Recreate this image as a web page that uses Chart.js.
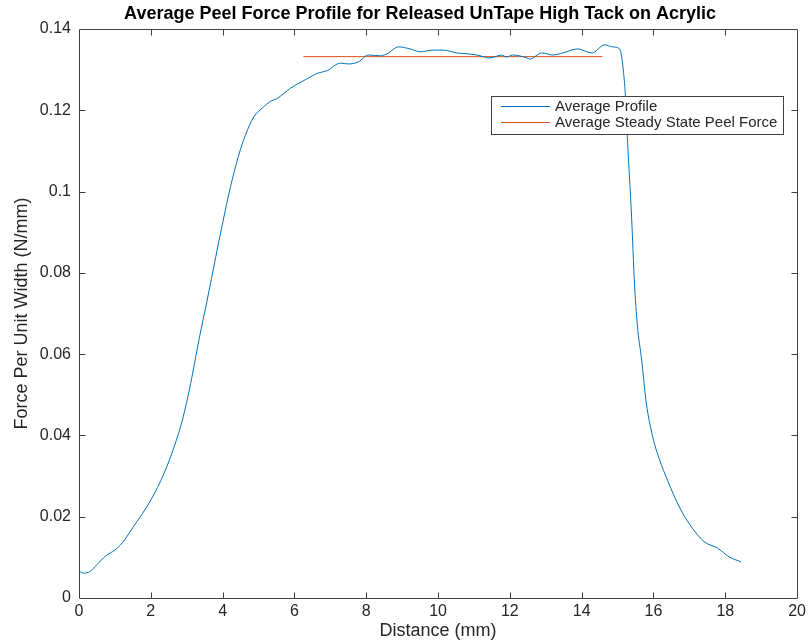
<!DOCTYPE html>
<html>
<head>
<meta charset="utf-8">
<script src="https://cdn.jsdelivr.net/npm/chart.js@4.4.0/dist/chart.umd.min.js"></script>
<style>
  html, body { margin: 0; padding: 0; background: #fff; }
</style>
</head>
<body>
<canvas id="chart" width="810" height="642"></canvas>
<script>
// ── Data ────────────────────────────────────────────────────────────────────
const TITLE = 'Average Peel Force Profile for Released UnTape High Tack on Acrylic';
const X_LABEL = 'Distance (mm)';
const Y_LABEL = 'Force Per Unit Width (N/mm)';

const X_TICKS = [0, 2, 4, 6, 8, 10, 12, 14, 16, 18, 20];
const Y_TICKS = [0, 0.02, 0.04, 0.06, 0.08, 0.1, 0.12, 0.14];

const profileDistance = [
  0, 0.14, 0.3, 0.5, 0.75, 1.0, 1.2, 1.49, 2.0, 2.37, 2.65, 2.88, 3.11, 3.34,
  3.57, 3.81, 3.99, 4.22, 4.45, 4.64, 4.87, 5.1, 5.33, 5.5, 5.9, 6.3, 6.67, 6.9,
  7.28, 7.5, 7.78, 8.06, 8.39, 8.58, 8.9, 9.22, 9.5, 9.86, 10.14, 10.53, 10.8,
  11.08, 11.44, 11.78, 11.9, 12.08, 12.47, 12.55, 12.89, 13.2, 13.47, 13.89,
  14.28, 14.64, 14.86, 15.06, 15.17, 15.22, 15.28, 15.39, 15.47, 15.55, 15.67,
  15.8, 15.98, 16.17, 16.39, 16.72, 17.08, 17.42, 17.78, 18.11, 18.44
];
const profileForce = [
  0.0066, 0.0061, 0.0065, 0.0082, 0.0104, 0.0118, 0.0135, 0.0172, 0.0241, 0.0307,
  0.0372, 0.0438, 0.0528, 0.0635, 0.0733, 0.0840, 0.0918, 0.1012, 0.1090, 0.1140,
  0.1184, 0.1205, 0.1222, 0.1228, 0.1255, 0.1275, 0.1292, 0.1297, 0.1316, 0.1314,
  0.1319, 0.1336, 0.1334, 0.1339, 0.1356, 0.1351, 0.1344, 0.1348, 0.1348, 0.1341,
  0.1339, 0.1336, 0.1329, 0.1336, 0.1331, 0.1336, 0.1329, 0.1326, 0.1341, 0.1336,
  0.1341, 0.1351, 0.1341, 0.1361, 0.1356, 0.1351, 0.1290, 0.1233, 0.1120, 0.0937,
  0.0775, 0.0672, 0.0586, 0.0480, 0.0396, 0.0340, 0.0290, 0.0224, 0.0172, 0.0138,
  0.0123, 0.0101, 0.0089
];

const steadyDistance = [6.25, 14.58];
const steadyForce = [0.1332, 0.1332];

const SERIES_LABELS = ['Average Profile', 'Average Steady State Peel Force'];
const SERIES_COLORS = ['#0072BD', '#D95319'];

// ── Style ───────────────────────────────────────────────────────────────────
const FONT = '"Liberation Sans", Arial, Helvetica, sans-serif';
const INK = '#262626';
const AXIS = '#404040';

const toPoints = (xs, ys) => xs.map((x, i) => ({ x, y: ys[i] }));

// title drawn above the axes (MATLAB centres it a bit left of the plot)
const titlePlugin = {
  id: 'matlabTitle',
  afterDraw(chart) {
    const ctx = chart.ctx;
    ctx.save();
    ctx.font = 'bold 18px ' + FONT;
    ctx.fillStyle = '#000';
    ctx.textAlign = 'center';
    ctx.textBaseline = 'middle';
    ctx.fillText(TITLE, 420, 14);
    ctx.restore();
  }
};

// box round the axes + inward ticks on all four sides
const boxPlugin = {
  id: 'matlabBox',
  afterDatasetsDraw(chart) {
    const { ctx, chartArea: a, scales } = chart;
    const L = Math.round(a.left) + 0.5, R = Math.round(a.right) + 0.5;
    const T = Math.round(a.top) + 0.5, B = Math.round(a.bottom) + 0.5;
    const len = 6;
    ctx.save();
    ctx.strokeStyle = AXIS;
    ctx.lineWidth = 1;
    ctx.beginPath();
    ctx.rect(L, T, R - L, B - T);
    X_TICKS.forEach(v => {
      const px = Math.round(scales.x.getPixelForValue(v)) + 0.5;
      if (v === 0 || v === 20) return;
      ctx.moveTo(px, B); ctx.lineTo(px, B - len);
      ctx.moveTo(px, T); ctx.lineTo(px, T + len);
    });
    Y_TICKS.forEach(v => {
      const py = Math.round(scales.y.getPixelForValue(v)) + 0.5;
      if (v === 0 || v === 0.14) return;
      ctx.moveTo(L, py); ctx.lineTo(L + len, py);
      ctx.moveTo(R, py); ctx.lineTo(R - len, py);
    });
    ctx.stroke();
    ctx.restore();
  }
};

// legend box inside the axes, top right
const legendPlugin = {
  id: 'matlabLegend',
  afterDraw(chart) {
    const ctx = chart.ctx;
    const bx = 491.5, by = 96.5, bw = 292, bh = 38;
    ctx.save();
    ctx.fillStyle = '#fff';
    ctx.fillRect(bx, by, bw, bh);
    ctx.strokeStyle = AXIS;
    ctx.lineWidth = 1;
    ctx.strokeRect(bx, by, bw, bh);
    ctx.font = '15px ' + FONT;
    ctx.textBaseline = 'middle';
    ctx.textAlign = 'left';
    chart.data.datasets.forEach((ds, i) => {
      const y = 106 + i * 16;
      ctx.strokeStyle = ds.borderColor;
      ctx.beginPath();
      ctx.moveTo(501, y + 0.5);
      ctx.lineTo(550, y + 0.5);
      ctx.stroke();
      ctx.fillStyle = INK;
      ctx.fillText(ds.label, 555, y + 1);
    });
    ctx.restore();
  }
};

new Chart(document.getElementById('chart'), {
  type: 'line',
  data: {
    datasets: [
      {
        label: SERIES_LABELS[0],
        data: toPoints(profileDistance, profileForce),
        borderColor: SERIES_COLORS[0],
        borderWidth: 1,
        pointRadius: 0,
        cubicInterpolationMode: 'monotone',
        fill: false,
      },
      {
        label: SERIES_LABELS[1],
        data: toPoints(steadyDistance, steadyForce),
        borderColor: SERIES_COLORS[1],
        borderWidth: 1,
        pointRadius: 0,
        fill: false,
      },
    ],
  },
  options: {
    responsive: false,
    animation: false,
    devicePixelRatio: 1,
    layout: { padding: { left: 0, right: 12, top: 29, bottom: 0 } },
    plugins: {
      legend: { display: false },
      tooltip: { enabled: false },
      title: { display: false },
    },
    scales: {
      x: {
        type: 'linear',
        min: 0,
        max: 20,
        afterBuildTicks: s => { s.ticks = X_TICKS.map(value => ({ value })); },
        afterFit: s => { s.height = 44; },
        grid: { display: false, drawTicks: false },
        border: { display: false },
        ticks: {
          color: INK,
          font: { family: FONT, size: 16 },
          padding: 4,
          maxRotation: 0,
          autoSkip: false,
        },
        title: {
          display: true,
          text: X_LABEL,
          color: INK,
          font: { family: FONT, size: 18 },
          padding: { top: 0, bottom: 0 },
        },
      },
      y: {
        type: 'linear',
        min: 0,
        max: 0.14,
        afterBuildTicks: s => { s.ticks = Y_TICKS.map(value => ({ value })); },
        afterFit: s => { s.width = 79; },
        grid: { display: false, drawTicks: false },
        border: { display: false },
        ticks: {
          color: INK,
          font: { family: FONT, size: 16 },
          padding: 8,
          autoSkip: false,
          callback: v => String(Number(v.toFixed(2))),
        },
        title: {
          display: true,
          text: Y_LABEL,
          color: INK,
          font: { family: FONT, size: 18 },
          padding: { top: 11, bottom: 0 },
        },
      },
    },
  },
  plugins: [boxPlugin, legendPlugin, titlePlugin],
});
</script>
</body>
</html>
